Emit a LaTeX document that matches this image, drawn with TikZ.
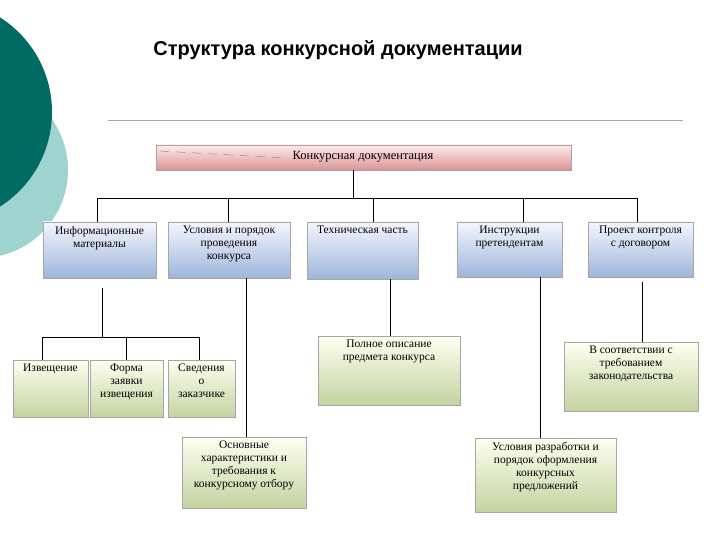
\documentclass[tikz,border=0pt]{standalone}
\usepackage{fontspec}
\setmainfont{Liberation Serif}
\newfontfamily\titlefont{Liberation Sans}
\usetikzlibrary{shadows}
\definecolor{tealD}{HTML}{006B63}
\definecolor{tealL}{HTML}{9FD3CF}
\definecolor{bluB}{HTML}{9DB6DA}
\definecolor{grnB}{HTML}{C3D3A0}
\definecolor{pnkB}{HTML}{D99494}
\tikzset{
 bx/.style={draw=gray!70, line width=0.4pt, drop shadow={shadow xshift=1pt,shadow yshift=-1pt,opacity=0.35}},
 blue/.style={bx, top color=blue!4!white, bottom color=bluB},
 green/.style={bx, top color=green!6!yellow!6!white, bottom color=grnB},
 pink/.style={bx, top color=red!8!white, bottom color=pnkB},
 tx/.style={font=\fontsize{11.5}{13}\selectfont, align=center, anchor=north, inner sep=1pt},
 ln/.style={line width=0.8pt, black}
}
\newcommand\bx[7]{\path[#6] (#2,#3) rectangle (#4,#5);
 \node[tx] (#1) at ({(#2+#4)/2},#3+3) {#7};}
\begin{document}
\begin{tikzpicture}[x=1pt,y=-1pt]
\useasboundingbox (0,0) rectangle (720,540);
\fill[white] (0,0) rectangle (720,540);
\begin{scope}
\clip (0,0) rectangle (720,540);
\fill[tealL] (-20,170) circle (88);
\fill[tealD] (-60,112) circle (112);
\end{scope}
\node[font=\titlefont\bfseries\fontsize{20}{24}\selectfont] (title) at (338,50) {Структура конкурсной документации};
\draw[gray!70, line width=0.6pt] (108,120) -- (683,120);
% top box
\path[pink] (156,145) rectangle (571,170);
\draw[gray, dash pattern=on 9pt off 7pt] (160,151) -- (284,158);
\node[tx, anchor=center, font=\fontsize{12.5}{14}\selectfont] (top) at (363,157) {Конкурсная документация};
% blue row
\bx{b1}{43}{222}{156}{278}{blue}{Информационные\\материалы}
\bx{b2}{168}{222}{290}{278}{blue}{Условия и порядок\\проведения\\конкурса}
\bx{b3}{307}{222}{418}{279}{blue}{Техническая часть}
\bx{b4}{457}{222}{562}{277}{blue}{Инструкции\\претендентам}
\bx{b5}{588}{222}{693}{277}{blue}{Проект контроля\\с договором}
% green boxes
\bx{g1}{13}{360}{88}{417}{green}{Извещение}
\bx{g2}{90}{360}{163}{417}{green}{Форма\\заявки\\извещения}
\bx{g3}{168}{360}{235}{417}{green}{Сведения\\о\\заказчике}
\bx{g4}{182}{437}{306}{508}{green}{Основные\\характеристики и\\требования к\\конкурсному отбору}
\bx{g5}{318}{336}{460}{405}{green}{Полное описание\\предмета конкурса}
\bx{g6}{475}{438}{616}{512}{green}{Условия разработки и\\порядок оформления\\конкурсных\\предложений}
\bx{g7}{564}{342}{698}{411}{green}{В соответствии с\\требованием\\законодательства}
% connectors
\draw[ln] (353,170) -- (353,198);
\draw[ln] (97,222) -- (97,198) -- (637,198) -- (637,222);
\draw[ln] (228,198) -- (228,222);
\draw[ln] (373,198) -- (373,222);
\draw[ln] (523,198) -- (523,222);
\draw[ln] (102,288) -- (102,337);
\draw[ln] (42,360) -- (42,337) -- (199,337) -- (199,360);
\draw[ln] (126,337) -- (126,360);
\draw[ln] (246,278) -- (246,437);
\draw[ln] (390,279) -- (390,336);
\draw[ln] (540,277) -- (540,438);
\draw[ln] (642,282) -- (642,342);
\end{tikzpicture}
\end{document}
